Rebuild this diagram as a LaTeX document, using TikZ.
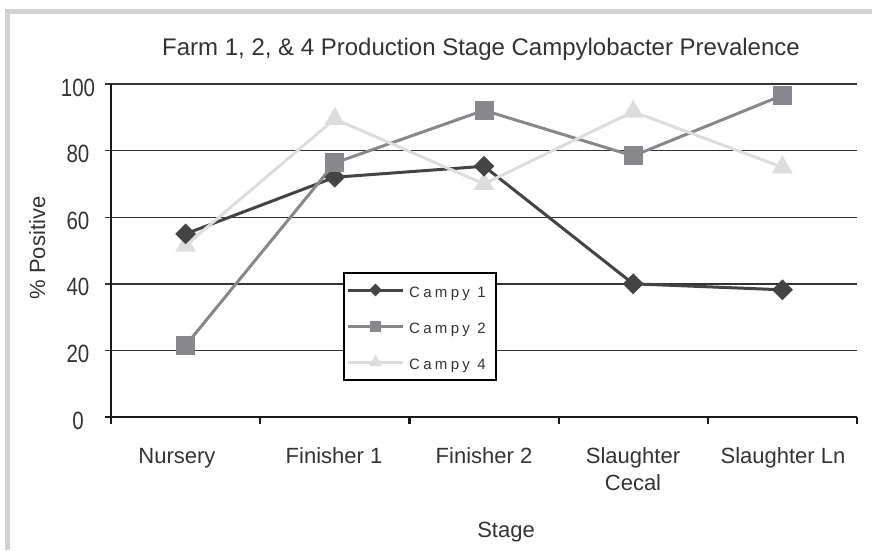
\documentclass[tikz,border=0pt]{standalone}
\usepackage{fontspec}
\setmainfont{Liberation Sans}
\usetikzlibrary{shapes.geometric}
\definecolor{frameg}{HTML}{D2D2D2}
\definecolor{txt}{HTML}{333333}
\definecolor{cdark}{HTML}{444444}
\definecolor{cmid}{HTML}{87878C}
\definecolor{clight}{HTML}{DDDDDD}
\definecolor{gridc}{HTML}{333333}
\begin{document}
\begin{tikzpicture}[x=1pt,y=-1pt,
  lbl/.style={text=txt, font=\fontsize{22}{26}\selectfont, inner sep=0pt},
  ylbl/.style={text=txt, font=\fontsize{25}{29}\selectfont, inner sep=0pt, anchor=base},
  gridline/.style={draw=gridc, line width=1.4pt},
  axisline/.style={draw=black!90, line width=2.2pt},
  ser1/.style={draw=cdark, line width=3pt},
  ser2/.style={draw=cmid, line width=3pt},
  ser4/.style={draw=clight, line width=3pt},
  mk1/.style={diamond, fill=cdark, inner sep=0pt, minimum size=21pt},
  mk2/.style={rectangle, fill=cmid, inner sep=0pt, minimum size=19pt},
  mk4/.style={regular polygon, regular polygon sides=3, fill=clight, inner sep=0pt, minimum size=24pt},
  lmk1/.style={diamond, fill=cdark, inner sep=0pt, minimum size=13pt},
  lmk2/.style={rectangle, fill=cmid, inner sep=0pt, minimum size=11pt},
  lmk4/.style={regular polygon, regular polygon sides=3, fill=clight, inner sep=0pt, minimum size=15pt},
  legtxt/.style={text=txt, font=\fontsize{15}{17}\selectfont\addfontfeature{LetterSpace=22}, inner sep=0pt, anchor=base west},
]
\useasboundingbox (0,0) rectangle (872,550);
% frame
\fill[frameg] (5,9) rectangle (872,14);
\fill[frameg] (5,9) rectangle (10,550);

% title
\node[text=txt, font=\fontsize{24}{28}\selectfont, inner sep=0pt, anchor=base] (title) at (481,55)
  {Farm 1, 2, \& 4 Production Stage Campylobacter Prevalence};

% gridlines
\foreach \v in {20,40,60,80,100}{
  \draw[gridline] (105,{417-3.33*\v}) -- (857,{417-3.33*\v});
}
% y labels
\foreach \v in {0,20,40,60,80,100}{
  \node[ylbl] (y\v) at (78,{417-3.33*\v+12}) {\scalebox{0.82}[1]{\v}};
}
% axes
\coordinate (ytop) at (111,84);
\coordinate (ybot) at (111,424);
\coordinate (xl) at (105,417);
\coordinate (xr) at (857,417);
\draw[axisline] (ytop) -- (ybot);
\draw[axisline] (xl) -- (xr);
\foreach \x in {260.2,409.4,558.6,707.8,857}{
  \draw[axisline] (\x,417) -- (\x,424);
}

% axis labels
\node[lbl, anchor=base] (xn) at (177,463) {Nursery};
\node[lbl, anchor=base] (xf1) at (334,463) {Finisher 1};
\node[lbl, anchor=base] (xf2) at (484,463) {Finisher 2};
\node[lbl, anchor=base] (xsc) at (633,463) {Slaughter};
\node[lbl, anchor=base] (xsc2) at (633,490) {Cecal};
\node[lbl, anchor=base] (xsl) at (783,463) {Slaughter Ln};
\node[lbl, anchor=base] (xt) at (506,537) {Stage};
\node[lbl, anchor=base, rotate=90] (yt) at (45,248) {\% Positive};

% data coordinates
\def\xa{185.6}\def\xb{334.8}\def\xc{484}\def\xd{633.2}\def\xe{782.4}
\coordinate (a1) at (\xa,{417-3.33*55});
\coordinate (a2) at (\xb,{417-3.33*72});
\coordinate (a3) at (\xc,{417-3.33*75.3});
\coordinate (a4) at (\xd,{417-3.33*40});
\coordinate (a5) at (\xe,{417-3.33*38.2});
\coordinate (b1) at (\xa,{417-3.33*21.5});
\coordinate (b2) at (\xb,{417-3.33*76.3});
\coordinate (b3) at (\xc,{417-3.33*92.1});
\coordinate (b4) at (\xd,{417-3.33*78.4});
\coordinate (b5) at (\xe,{417-3.33*96.6});
\coordinate (c1) at (\xa,{417-3.33*51.5});
\coordinate (c2) at (\xb,{417-3.33*89.5});
\coordinate (c3) at (\xc,{417-3.33*70});
\coordinate (c4) at (\xd,{417-3.33*91.7});
\coordinate (c5) at (\xe,{417-3.33*75});

% series lines
\draw[ser1] (a1) -- (a2) -- (a3) -- (a4) -- (a5);
\draw[ser2] (b1) -- (b2) -- (b3) -- (b4) -- (b5);
\draw[ser4] (c1) -- (c2) -- (c3) -- (c4) -- (c5);

% markers
\foreach \p in {1,...,5}{ \node[mk4] (mc\p) at (c\p) {}; }
\foreach \p in {1,...,5}{ \node[mk1] (ma\p) at (a\p) {}; }
\foreach \p in {1,...,5}{ \node[mk2] (mb\p) at (b\p) {}; }

% legend
\node[draw=black, fill=white, line width=1.6pt, inner sep=0pt, minimum width=152pt, minimum height=107pt] (leg) at (420,326.5) {};
\coordinate (l1a) at (348,290); \coordinate (l1b) at (403,290);
\coordinate (l2a) at (348,326); \coordinate (l2b) at (403,326);
\coordinate (l3a) at (348,362); \coordinate (l3b) at (403,362);
\draw[ser1] (l1a) -- (l1b);
\draw[ser2] (l2a) -- (l2b);
\draw[ser4] (l3a) -- (l3b);
\node[lmk1] (lm1) at (375.5,290) {};
\node[lmk2] (lm2) at (375.5,326) {};
\node[lmk4] (lm3) at (375.5,362) {};
\node[legtxt] (lt1) at (409,297) {Campy 1};
\node[legtxt] (lt2) at (409,333) {Campy 2};
\node[legtxt] (lt3) at (409,369) {Campy 4};
\end{tikzpicture}
\end{document}
